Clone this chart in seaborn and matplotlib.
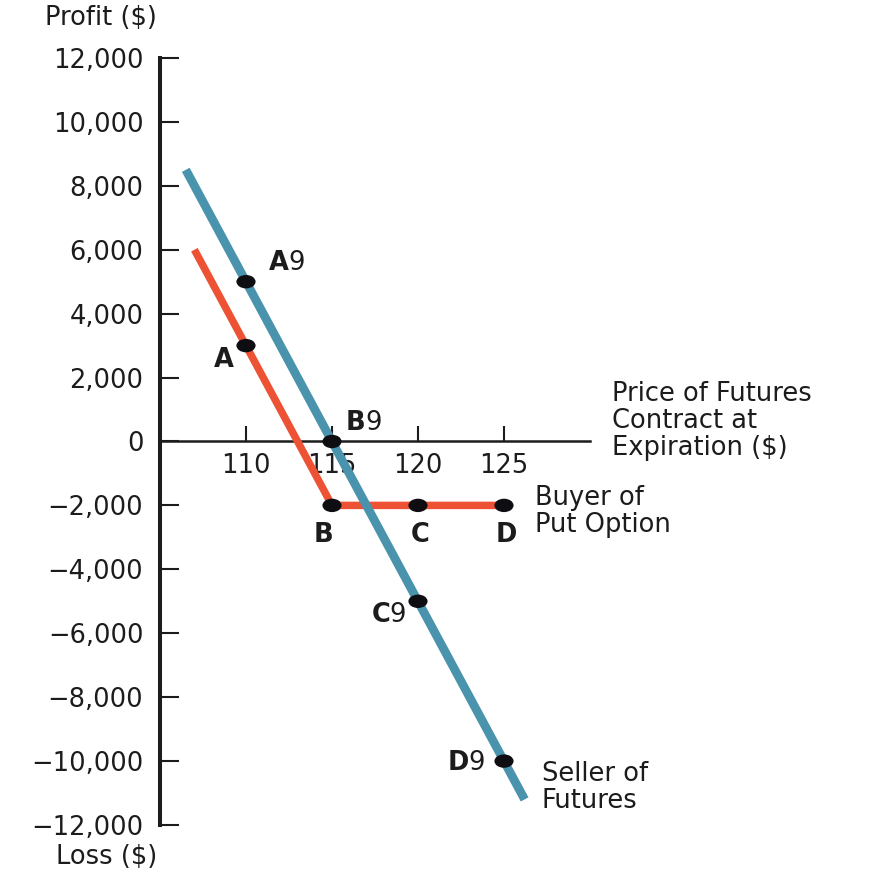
import matplotlib
matplotlib.use("Agg")
import matplotlib.pyplot as plt
from matplotlib.path import Path
from matplotlib.transforms import Affine2D
import seaborn as sns
import pandas as pd

# Futures price at expiration ($) and profit ($) for each position
futures_price = [106.5, 110, 115, 120, 125, 126.2]
futures_profit = [8500, 5000, 0, -5000, -10000, -11200]

put_price = [107, 110, 115, 120, 125]
put_profit = [6000, 3000, -2000, -2000, -2000]

# Highlighted outcomes
point_price = [110, 115, 120, 125]
put_point_profit = [3000, -2000, -2000, -2000]
futures_point_profit = [5000, 0, -5000, -10000]
point_letters = ["A", "B", "C", "D"]

y_ticks = list(range(-12000, 12001, 2000))
x_ticks = [110, 115, 120, 125]

BLUE = "#4A93AD"
RED = "#EE5234"
INK = "#1c1c1c"
FS = 18.5

sns.set_style("white")
plt.rcParams["font.family"] = ["DejaVu Sans"]

fig = plt.figure(figsize=(8.7, 8.71), dpi=100)
W, H = 870, 871
ax = fig.add_axes([160 / W, 11 / H, 710 / W, 830 / H])
ax.set_xlim(105, 146.28)
ax.set_ylim(-13095, 12875)

futures_df = pd.DataFrame({"price": futures_price, "profit": futures_profit})
put_df = pd.DataFrame({"price": put_price, "profit": put_profit})

sns.lineplot(data=put_df, x="price", y="profit", sort=False, color=RED,
             linewidth=5.4, solid_capstyle="butt", ax=ax, zorder=3, clip_on=False)
sns.lineplot(data=futures_df, x="price", y="profit", sort=False, color=BLUE,
             linewidth=6.3, solid_capstyle="butt", ax=ax, zorder=4, clip_on=False)

dot = Path.unit_circle().transformed(Affine2D().scale(1.0, 0.7))
pts = pd.DataFrame({
    "price": point_price * 2,
    "profit": put_point_profit + futures_point_profit,
})
sns.scatterplot(data=pts, x="price", y="profit", marker=dot, s=190,
                color="#0d0d12", edgecolor="none", linewidth=0, ax=ax,
                zorder=6, clip_on=False)

# Axes: left spine as profit axis, x axis running through zero
for side in ("top", "right"):
    ax.spines[side].set_visible(False)
ax.spines["left"].set_bounds(-12000, 12000)
ax.spines["left"].set_linewidth(2.9)
ax.spines["left"].set_color(INK)
ax.spines["bottom"].set_position(("data", 0))
ax.spines["bottom"].set_bounds(105, 130)
ax.spines["bottom"].set_linewidth(1.8)
ax.spines["bottom"].set_color(INK)
ax.spines["bottom"].set_zorder(2)

ax.set_yticks(y_ticks)
ax.set_yticklabels([f"{v:,}".replace("-", "\u2212") for v in y_ticks])
ax.set_xticks(x_ticks)
ax.set_xticklabels([str(v) for v in x_ticks])
ax.tick_params(axis="y", direction="in", length=14, width=1.5, color=INK,
               pad=12, labelsize=FS, labelcolor=INK, left=True)
ax.tick_params(axis="x", direction="in", length=10.5, width=1.5, color=INK,
               pad=8.5, labelsize=FS, labelcolor=INK, bottom=True)
ax.set_xlabel("")
ax.set_ylabel("")
ax.grid(False)

px = 1 / 1.389  # pixel -> point

def bold_letter(x, y, letter, dx, dy, ha="center"):
    return ax.annotate(letter, xy=(x, y), xytext=(dx * px, -dy * px),
                       textcoords="offset points", ha=ha, va="center",
                       fontsize=FS, fontweight="bold", color=INK, zorder=7)

def primed_left(x, y, letter, dx, dy):
    t = bold_letter(x, y, letter, dx, dy, ha="left")
    ax.annotate("9", xy=(1, 0), xycoords=t, xytext=(-0.5, 0),
                textcoords="offset points", ha="left", va="bottom",
                fontsize=FS, color=INK, zorder=7)

def primed_right(x, y, letter, dx, dy):
    nine = ax.annotate("9", xy=(x, y), xytext=(dx * px, -dy * px),
                       textcoords="offset points", ha="right", va="center",
                       fontsize=FS, color=INK, zorder=7)
    ax.annotate(letter, xy=(0, 0), xycoords=nine, xytext=(0.5, 0),
                textcoords="offset points", ha="right", va="bottom",
                fontsize=FS, fontweight="bold", color=INK, zorder=7)

# Put buyer outcome labels
bold_letter(point_price[0], put_point_profit[0], point_letters[0], -12, 14, ha="right")
bold_letter(point_price[1], put_point_profit[1], point_letters[1], -9, 30)
bold_letter(point_price[2], put_point_profit[2], point_letters[2], 2, 30)
bold_letter(point_price[3], put_point_profit[3], point_letters[3], 2, 30)

# Futures seller outcome labels
primed_left(point_price[0], futures_point_profit[0], point_letters[0], 23, -19)
primed_left(point_price[1], futures_point_profit[1], point_letters[1], 14, -18)
primed_right(point_price[2], futures_point_profit[2], point_letters[2], -12, 14)
primed_right(point_price[3], futures_point_profit[3], point_letters[3], -19, 2)

# Axis captions and series names
fig.text(157 / W, 1 - 18 / H, "Profit ($)", ha="right", va="center",
         fontsize=FS, color=INK)
fig.text(157 / W, 1 - 857 / H, "Loss ($)", ha="right", va="center",
         fontsize=FS, color=INK)
fig.text(612 / W, 1 - 421 / H, "Price of Futures\nContract at\nExpiration ($)",
         ha="left", va="center", fontsize=FS, color=INK, linespacing=1.05)
fig.text(535 / W, 1 - 511 / H, "Buyer of\nPut Option", ha="left", va="center",
         fontsize=FS, color=INK, linespacing=1.05)
fig.text(542 / W, 1 - 787 / H, "Seller of\nFutures", ha="left", va="center",
         fontsize=FS, color=INK, linespacing=1.05)

fig.savefig("out.png", dpi=100, facecolor="white")
